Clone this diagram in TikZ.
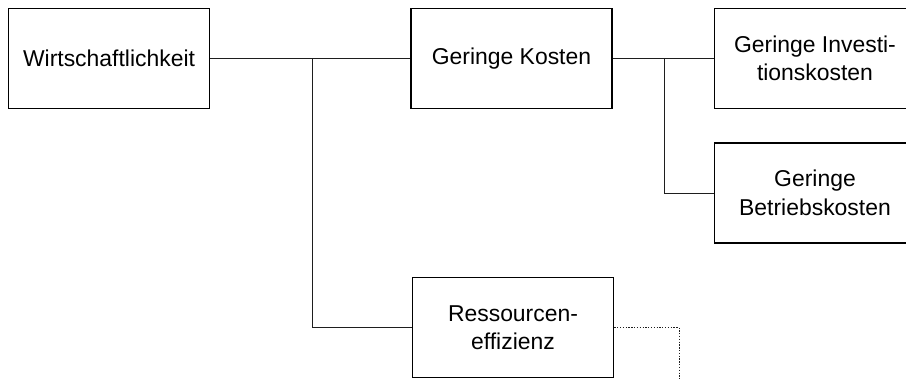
\documentclass[tikz,border=0pt]{standalone}
\usepackage{fontspec}
\setmainfont{Liberation Sans}
\usetikzlibrary{positioning, calc}
\definecolor{boxline}{RGB}{0, 0, 0}
\definecolor{linkcolor}{RGB}{30, 30, 30}

\begin{document}
\begin{tikzpicture}[
    x=0.025cm, y=-0.025cm,
    goal/.style={rectangle, draw=boxline, line width=1.2pt, fill=white, minimum width=5.025cm, minimum height=2.5cm, align=center, font=\fontsize{16.3}{20.3}\selectfont},
    link/.style={draw=linkcolor, line width=0.6pt},
    open/.style={draw=linkcolor, line width=0.5pt, dash pattern=on 0.9pt off 1.1pt}
]

% Canvas
\useasboundingbox (0, 0) rectangle (906, 380);
\clip (0, 0) rectangle (906, 380);

% === Main goal ===
\node[goal] (wirt) at (109, 58.5) {Wirtschaftlichkeit};

% === Sub goals ===
\node[goal] (kosten) at (511.5, 58.5) {Geringe Kosten};
\node[goal] (ressourcen) at (513, 327.5) {Ressourcen-\\effizienz};

% === Cost goals ===
\node[goal] (invest) at (815, 58.5) {Geringe Investi-\\tionskosten};
\node[goal] (betrieb) at (815, 193) {Geringe\\Betriebskosten};

% Junctions
\coordinate (j1) at (312, 58.5);
\coordinate (j2) at (664, 58.5);
\coordinate (offpage) at (679, 390);

% Connectors
\draw[link] (wirt) -- (j1) -- (kosten);
\draw[link] (j1) |- (ressourcen.west);
\draw[link] (kosten) -- (j2) -- (invest);
\draw[link] (j2) |- (betrieb.west);
\draw[open] (ressourcen.east) -| (offpage);

\end{tikzpicture}
\end{document}
